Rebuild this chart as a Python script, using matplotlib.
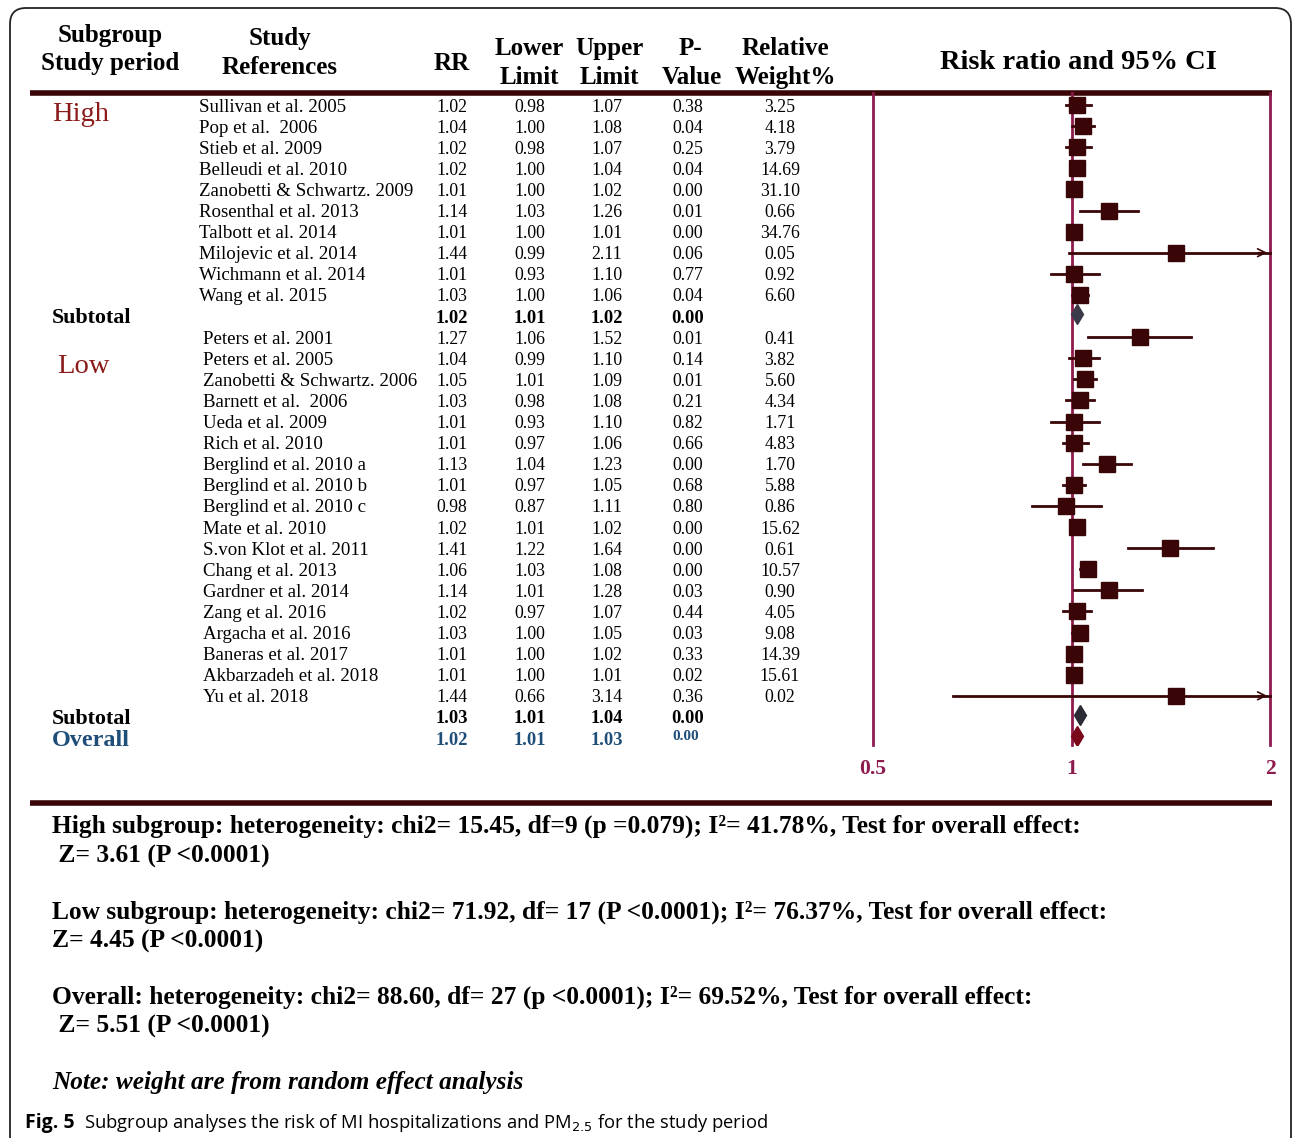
import matplotlib
matplotlib.use("Agg")
import matplotlib.pyplot as plt
from matplotlib.patches import FancyBboxPatch
import numpy as np

# ---------------- data ----------------
high_studies = ["Sullivan et al. 2005", "Pop et al.  2006", "Stieb et al. 2009", "Belleudi et al. 2010",
                "Zanobetti & Schwartz. 2009", "Rosenthal et al. 2013", "Talbott et al. 2014",
                "Milojevic et al. 2014", "Wichmann et al. 2014", "Wang et al. 2015"]
high_rr = [1.02, 1.04, 1.02, 1.02, 1.01, 1.14, 1.01, 1.44, 1.01, 1.03]
high_lo = [0.98, 1.00, 0.98, 1.00, 1.00, 1.03, 1.00, 0.99, 0.93, 1.00]
high_hi = [1.07, 1.08, 1.07, 1.04, 1.02, 1.26, 1.01, 2.11, 1.10, 1.06]
high_p = [0.38, 0.04, 0.25, 0.04, 0.00, 0.01, 0.00, 0.06, 0.77, 0.04]
high_w = [3.25, 4.18, 3.79, 14.69, 31.10, 0.66, 34.76, 0.05, 0.92, 6.60]
high_sub = (1.02, 1.01, 1.02, 0.00)

low_studies = ["Peters et al. 2001", "Peters et al. 2005", "Zanobetti & Schwartz. 2006", "Barnett et al.  2006",
               "Ueda et al. 2009", "Rich et al. 2010", "Berglind et al. 2010 a", "Berglind et al. 2010 b",
               "Berglind et al. 2010 c", "Mate et al. 2010", "S.von Klot et al. 2011", "Chang et al. 2013",
               "Gardner et al. 2014", "Zang et al. 2016", "Argacha et al. 2016", "Baneras et al. 2017",
               "Akbarzadeh et al. 2018", "Yu et al. 2018"]
low_rr = [1.27, 1.04, 1.05, 1.03, 1.01, 1.01, 1.13, 1.01, 0.98, 1.02, 1.41, 1.06, 1.14, 1.02, 1.03, 1.01, 1.01, 1.44]
low_lo = [1.06, 0.99, 1.01, 0.98, 0.93, 0.97, 1.04, 0.97, 0.87, 1.01, 1.22, 1.03, 1.01, 0.97, 1.00, 1.00, 1.00, 0.66]
low_hi = [1.52, 1.10, 1.09, 1.08, 1.10, 1.06, 1.23, 1.05, 1.11, 1.02, 1.64, 1.08, 1.28, 1.07, 1.05, 1.02, 1.01, 3.14]
low_p = [0.01, 0.14, 0.01, 0.21, 0.82, 0.66, 0.00, 0.68, 0.80, 0.00, 0.00, 0.00, 0.03, 0.44, 0.03, 0.33, 0.02, 0.36]
low_w = [0.41, 3.82, 5.60, 4.34, 1.71, 4.83, 1.70, 5.88, 0.86, 15.62, 0.61, 10.57, 0.90, 4.05, 9.08, 14.39, 15.61, 0.02]
low_sub = (1.03, 1.01, 1.04, 0.00)
overall = (1.02, 1.01, 1.03, 0.00)

x_ticks = [0.5, 1, 2]
x_tick_labels = ["0.5", "1", "2"]

footer_lines = [
    ("High subgroup: heterogeneity: chi2= 15.45, df=9 (p =0.079); I²= 41.78%, Test for overall effect:", 52, 826),
    (" Z= 3.61 (P <0.0001)", 52, 856),
    ("Low subgroup: heterogeneity: chi2= 71.92, df= 17 (P <0.0001); I²= 76.37%, Test for overall effect:", 52, 912),
    ("Z= 4.45 (P <0.0001)", 52, 941),
    ("Overall: heterogeneity: chi2= 88.60, df= 27 (p <0.0001); I²= 69.52%, Test for overall effect:", 52, 997),
    (" Z= 5.51 (P <0.0001)", 52, 1026),
]

# ---------------- layout ----------------
W, H = 1292, 1138
DPI = 100
SERIF = ["Liberation Serif", "DejaVu Serif"]
MAROON = "#3a0507"
PURPLE = "#8e1b4d"
RED = "#8b1a1a"
BLUE = "#1f4e79"

fig = plt.figure(figsize=(W / DPI, H / DPI), dpi=DPI)
bg = fig.add_axes([0, 0, 1, 1])
bg.set_xlim(0, W)
bg.set_ylim(H, 0)
bg.axis("off")

# outer frame
frame = FancyBboxPatch((10, 8), 1281, 1200, boxstyle="round,pad=0,rounding_size=16",
                       fill=False, ec="#222222", lw=1.3)
bg.add_patch(frame)

def T(x, y, s, size=13, weight="normal", ha="left", color="black", style="normal", family=None):
    return bg.text(x, y, s, fontsize=size, fontweight=weight, ha=ha, va="center", color=color,
                   fontstyle=style, family=family or SERIF)

# headers
HS = 18
T(110, 35, "Subgroup", HS, "bold", "center")
T(110, 63, "Study period", HS, "bold", "center")
T(280, 38, "Study", HS, "bold", "center")
T(280, 67, "References", HS, "bold", "center")
T(452, 63, "RR", HS, "bold", "center")
T(529, 48, "Lower", HS, "bold", "center")
T(529, 77, "Limit", HS, "bold", "center")
T(609, 48, "Upper", HS, "bold", "center")
T(609, 77, "Limit", HS, "bold", "center")
T(690, 48, "P-", HS, "bold", "center")
T(692, 77, "Value", HS, "bold", "center")
T(785, 48, "Relative", HS, "bold", "center")
T(785, 77, "Weight%", HS, "bold", "center")
T(1078, 62, "Risk ratio and 95% CI", 20.5, "bold", "center")

# thick rules
bg.plot([30, 1272], [93, 93], color=MAROON, lw=4, solid_capstyle="butt")
bg.plot([30, 1272], [803, 803], color=MAROON, lw=4, solid_capstyle="butt")

row0, dy = 107, 21.1
def rowy(k):
    return row0 + dy * k

col_rr, col_lo, col_hi, col_p, col_w = 452, 530, 607, 688, 780
FS = 12.8
NS = 13.6

# forest axes
fx0, fx1 = 873, 1270
fy0, fy1 = 93, 745
fa = fig.add_axes([fx0 / W, 1 - fy1 / H, (fx1 - fx0) / W, (fy1 - fy0) / H])
fa.set_xscale("log")
fa.set_xlim(0.5, 2)
fa.set_ylim(fy1, fy0)
fa.axis("off")
for xv in x_ticks:
    fa.plot([xv, xv], [fy0, fy1], color=PURPLE, lw=2, zorder=1, clip_on=False)
for xv, lab in zip(x_ticks, x_tick_labels):
    bg.text(fx0 + (fx1 - fx0) * (np.log2(xv) + 1) / 2, 769, lab, fontsize=15.5, fontweight="bold",
            ha="center", va="center", color=PURPLE, family=SERIF)

def study_row(k, name, rr, lo, hi, p, w, name_x):
    y = rowy(k)
    T(name_x, y, name, NS)
    T(col_rr, y, f"{rr:.2f}", FS, ha="center")
    T(col_lo, y, f"{lo:.2f}", FS, ha="center")
    T(col_hi, y, f"{hi:.2f}", FS, ha="center")
    T(col_p, y, f"{p:.2f}", FS, ha="center")
    T(col_w, y, f"{w:.2f}", FS, ha="center")
    ym = y - 2
    if hi > 2:
        fa.plot([lo, 2], [ym, ym], color=MAROON, lw=2, zorder=3, clip_on=False)
        fa.annotate("", xy=(2, ym), xytext=(1.9, ym),
                    arrowprops=dict(arrowstyle="->", color=MAROON, lw=1.2, mutation_scale=14))
    else:
        fa.plot([lo, hi], [ym, ym], color=MAROON, lw=2, zorder=3)
    fa.plot([rr], [ym], marker="s", ms=11.5, color=MAROON, zorder=4)

for i in range(len(high_studies)):
    study_row(i, high_studies[i], high_rr[i], high_lo[i], high_hi[i], high_p[i], high_w[i], 199)

k_hsub = len(high_studies)
for j in range(len(low_studies)):
    study_row(k_hsub + 1 + j, low_studies[j], low_rr[j], low_lo[j], low_hi[j], low_p[j], low_w[j], 203)
k_lsub = k_hsub + 1 + len(low_studies)
k_over = k_lsub + 1

T(52, 114, "High", 20.5, color=RED)
T(57, 366, "Low", 20.5, color=RED)

def summary_row(k, label, vals, color, lsize, diamond_color):
    y = rowy(k)
    T(52, y, label, lsize, "bold", color=color)
    for x, v in zip([col_rr, col_lo, col_hi], vals[:3]):
        T(x, y, f"{v:.2f}", FS + 0.5, "bold", "center", color=color)
    fa.plot([vals[0]], [y - 4], marker="d", ms=10, color=diamond_color, zorder=4)

summary_row(k_hsub, "Subtotal", high_sub, "black", 15.8, "#3a3a48")
T(col_p, rowy(k_hsub), f"{high_sub[3]:.2f}", FS + 0.5, "bold", "center")
summary_row(k_lsub, "Subtotal", low_sub, "black", 15.8, "#2b2b35")
T(col_p, rowy(k_lsub), f"{low_sub[3]:.2f}", FS + 0.5, "bold", "center")
summary_row(k_over, "Overall", overall, BLUE, 17.5, "#7a0a1a")
T(686, rowy(k_over) - 4, f"{overall[3]:.2f}", 11, "bold", "center", color=BLUE)

# footer
for s, x, y in footer_lines:
    T(x, y, s, 18.4, "bold")
T(52, 1082, "Note: weight are from random effect analysis", 18.2, "bold", style="italic")

bg.text(25, 1123, "Fig. 5", fontsize=14, fontweight="bold", ha="left", va="center", family="Open Sans")
bg.text(84, 1123, r"Subgroup analyses the risk of MI hospitalizations and PM$_{2.5}$ for the study period",
        fontsize=13.2, ha="left", va="center", family="Open Sans")

fig.savefig("out.png", dpi=DPI)
